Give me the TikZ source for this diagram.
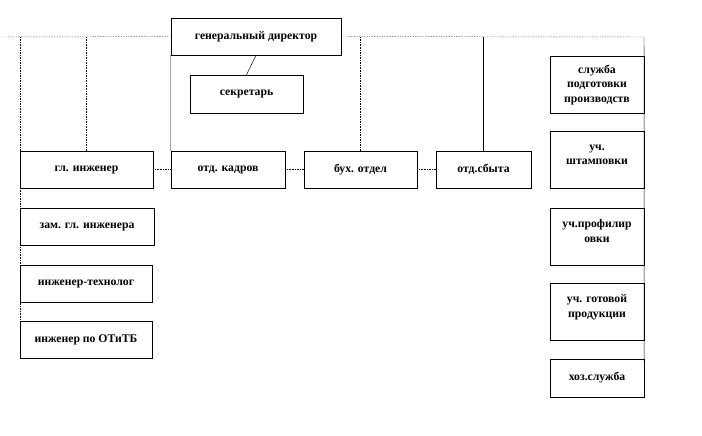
\documentclass[tikz,border=0pt]{standalone}
\usepackage{fontspec}
\setmainfont{Liberation Serif}
\begin{document}
\begin{tikzpicture}[x=0.03cm, y=-0.03cm,
  box/.style={draw, thin, fill=white, align=center, inner sep=1pt,
    font=\bfseries\fontsize{10}{12.3}\selectfont},
  dots/.style={densely dotted, thin}]
\useasboundingbox (0,0) rectangle (702,435);

\node[box, minimum width=5.1cm, minimum height=1.11cm] (gd) at (256,36.5) {генеральный директор};
\node[box, minimum width=3.39cm, minimum height=1.14cm] (sek) at (246.5,94) {секретарь};

\begin{scope}[every node/.style={box, minimum height=1.11cm}]
\node[minimum width=3.99cm] (gi) at (86.5,169.5) {гл. инженер};
\node[minimum width=4.02cm] (zam) at (87,226.5) {зам. гл. инженера};
\node[minimum width=3.96cm] (tech) at (86,283.5) {инженер-технолог};
\node[minimum width=3.96cm] (otb) at (86,339.5) {инженер по ОТиТБ};
\node[minimum width=3.42cm] (kadr) at (228,169.5) {отд. кадров};
\node[minimum width=3.39cm] (buh) at (360.5,169.5) {бух. отдел};
\node[minimum width=2.85cm] (sbyt) at (483.5,169.5) {отд.сбыта};
\end{scope}

\begin{scope}[every node/.style={box, minimum width=2.82cm, minimum height=1.71cm}]
\node (sp) at (597,85) {служба\\подготовки\\производств};
\node (sht) at (597,160) {уч.\\штамповки\\[-3pt]};
\node (prof) at (597,236.5) {уч.профилир\\овки\\[-3pt]};
\node (got) at (597,311.5) {уч. готовой\\продукции\\[-3pt]};
\node[minimum height=1.14cm] (hoz) at (597,378) {хоз.служба};
\end{scope}

\coordinate (tl) at (0,37);
\coordinate (tr) at (644,37);

\begin{scope}[dots]
\draw (tl) -- (gd.west);
\draw (gd.east) -- (tr);
\draw (otb.north west |- tl) -- (otb.north west);
\draw (gi.north |- tl) -- (gi.north);
\draw (buh.north |- tl) -- (buh.north);
\draw (gi.east) -- (kadr.west);
\draw (kadr.east) -- (buh.west);
\draw (buh.east) -- (sbyt.west);
\end{scope}

\draw[thin] (gd.south) -- (sek.north);
\draw[thin] (gd.south west) -- (kadr.north west);
\draw[thin] (sbyt.north |- tl) -- (sbyt.north);
\draw[thin] (tr) -- (hoz.east);

\end{tikzpicture}
\end{document}
